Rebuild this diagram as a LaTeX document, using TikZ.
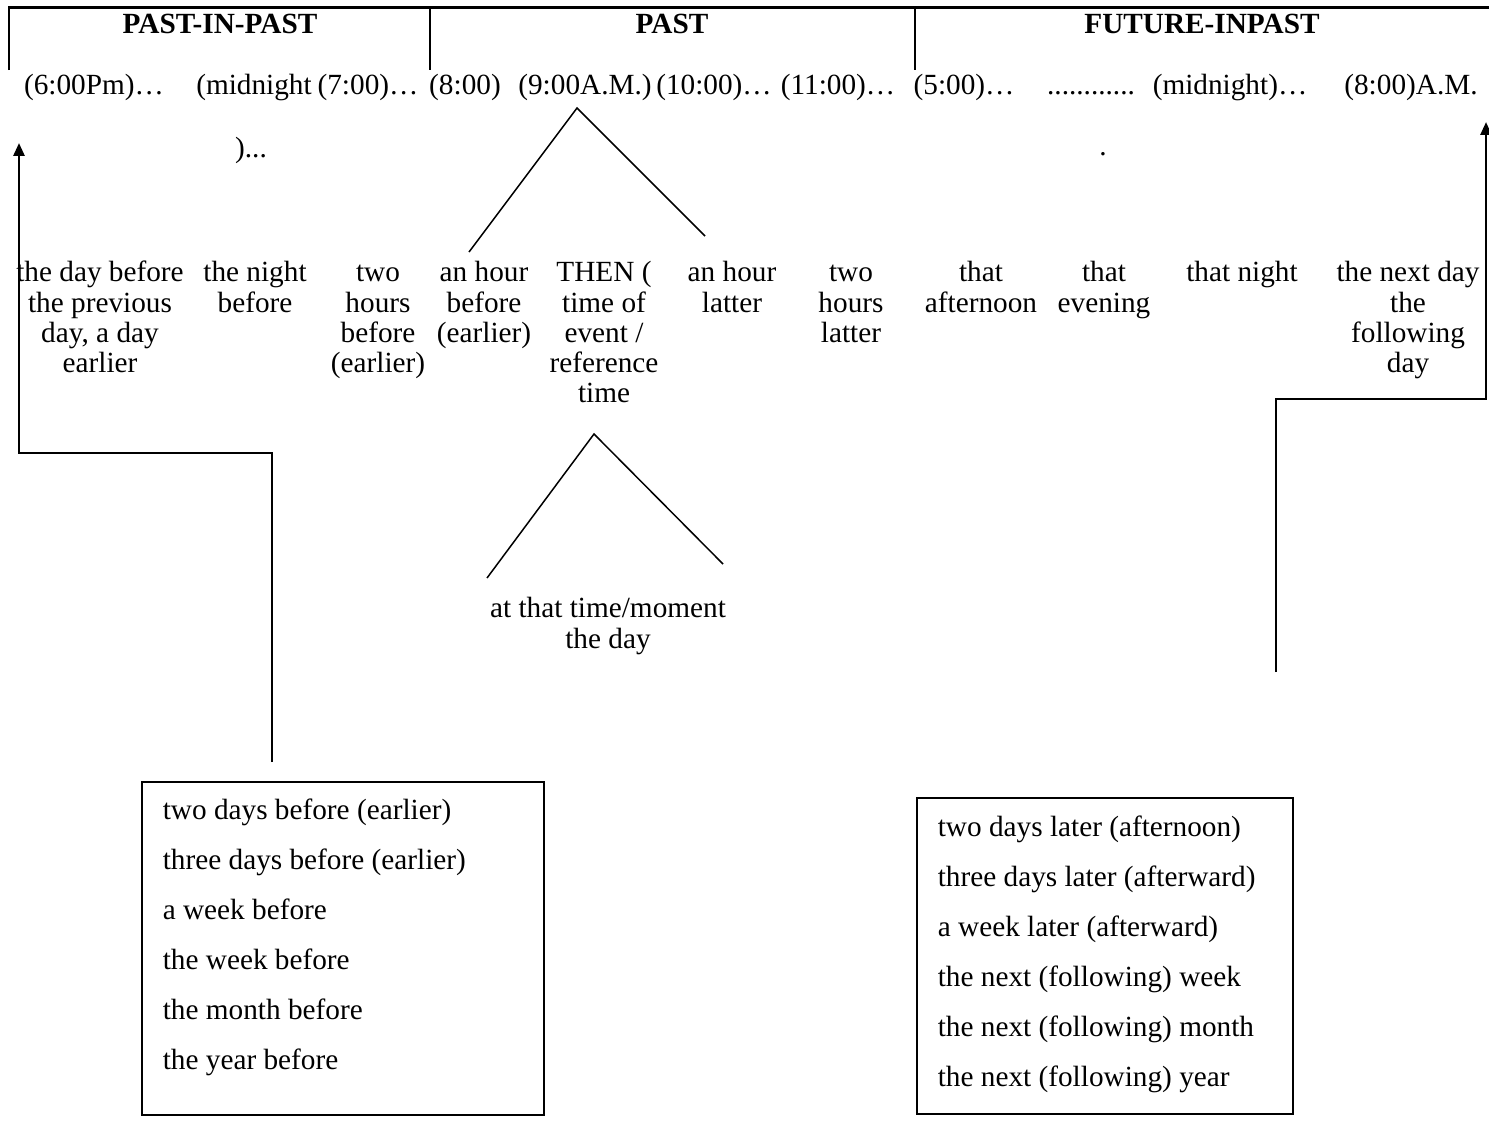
\documentclass[tikz,border=0pt]{standalone}
\usepackage{fontspec}
\setmainfont{Liberation Serif}
\usetikzlibrary{arrows.meta}
\newlength{\pxu}
\setlength{\pxu}{0.41pt}
\tikzset{
  hdrtext/.style={anchor=base, inner sep=0pt,
                  font=\fontsize{12pt}{14pt}\selectfont\bfseries},
  timetext/.style={anchor=base, inner sep=0pt,
                   font=\fontsize{12pt}{14pt}\selectfont},
  rowtext/.style={anchor=north, inner sep=0pt, align=center,
                  font=\fontsize{12pt}{30.3\pxu}\selectfont},
  listbox/.style={draw, line width=1.6\pxu, anchor=north west,
                  inner xsep=21\pxu, inner ysep=#1},
  hdrline/.style={line width=2.2\pxu},
}

\begin{document}
\begin{tikzpicture}[x=\pxu, y=-\pxu,
    arr/.style={-{Triangle[length=5.3pt, width=4.5pt]}, line width=2.6\pxu},
    peak/.style={line width=1.5\pxu}
  ]
  \useasboundingbox (0,0) rectangle (1489,1120);

  \draw[hdrline] (9,70) -- (9,7.5) -- (1489,7.5);
  \draw[hdrline] (430,7.5) -- (430,70);
  \draw[hdrline] (915,7.5) -- (915,70);
  \node[hdrtext] (pip) at (220,33) {PAST-IN-PAST};
  \node[hdrtext] (past) at (672,33) {PAST};
  \node[hdrtext] (fip) at (1202,33) {FUTURE-INPAST};

  \node[timetext] (pm6) at (94,94) {(6:00Pm)\ldots};
  \node[timetext] (mid1) at (254,94) {(midnight};
  \node[timetext] (mid1b) at (251,157) {)...};
  \node[timetext] (am7) at (368,94) {(7:00)\ldots};
  \node[timetext] (am8) at (465,94) {(8:00)};
  \node[timetext] (am9) at (585,94) {(9:00A.M.)};
  \node[timetext] (am10) at (714,94) {(10:00)\ldots};
  \node[timetext] (am11) at (838,94) {(11:00)\ldots};
  \node[timetext] (pm5) at (964,94) {(5:00)\ldots};
  \node[timetext] (dots) at (1091,94) {............};
  \node[timetext] (dotsb) at (1103,155) {.};
  \node[timetext] (mid2) at (1230,94) {(midnight)\ldots};
  \node[timetext] (next8) at (1411,94) {(8:00)A.M.};

  \node[rowtext] (daybefore) at (100,260) {\strut the day before\\the previous\\day, a day\\earlier};
  \node[rowtext] (nightbefore) at (255,260) {\strut the night\\before};
  \node[rowtext] (twobefore) at (378,260) {\strut two\\hours\\before\\(earlier)};
  \node[rowtext] (hourbefore) at (484,260) {\strut an hour\\before\\(earlier)};
  \node[rowtext] (then) at (604,260) {\strut THEN (\\time of\\event /\\reference\\time};
  \node[rowtext] (hourlater) at (732,260) {\strut an hour\\latter};
  \node[rowtext] (twolater) at (851,260) {\strut two\\hours\\latter};
  \node[rowtext] (afternoon) at (981,260) {\strut that\\afternoon};
  \node[rowtext] (evening) at (1104,260) {\strut that\\evening};
  \node[rowtext] (night) at (1242,260) {\strut that night};
  \node[rowtext] (nextday) at (1408,260) {\strut the next day\\the\\following\\day};

  \coordinate (pk1l) at (469,252);
  \coordinate (pk1a) at (577,108);
  \coordinate (pk1r) at (705,236);
  \draw[peak] (pk1l) -- (pk1a) -- (pk1r);

  \coordinate (pk2l) at (487,578);
  \coordinate (pk2a) at (594,434);
  \coordinate (pk2r) at (723,564);
  \draw[peak] (pk2l) -- (pk2a) -- (pk2r);
  \node[rowtext] (thatmoment) at (608,596) {\strut at that time/moment\\the day};

  \node[listbox=3\pxu] (beforelist) at (141,781)
    {\parbox[t][327\pxu][t]{360\pxu}{\fontsize{12pt}{50\pxu}\selectfont\raggedright
      \strut two days before (earlier)\\
      three days before (earlier)\\
      a week before\\
      the week before\\
      the month before\\
      the year before}};
  \node[listbox=4\pxu] (laterlist) at (916,797)
    {\parbox[t][308\pxu][t]{334\pxu}{\fontsize{12pt}{50\pxu}\selectfont\raggedright
      \strut two days later (afternoon)\\
      three days later (afterward)\\
      a week later (afterward)\\
      the next (following) week\\
      the next (following) month\\
      the next (following) year}};

  \coordinate (prevstart) at (272,762);
  \coordinate (prevbend) at (272,453);
  \coordinate (prevtip) at (19,143);
  \draw[arr] (prevstart) -- (prevbend) -| (prevtip);

  \coordinate (nextstart) at (1276,672);
  \coordinate (nextbend) at (1276,399);
  \coordinate (nexttip) at (1486,122);
  \draw[arr] (nextstart) -- (nextbend) -| (nexttip);
\end{tikzpicture}
\end{document}
